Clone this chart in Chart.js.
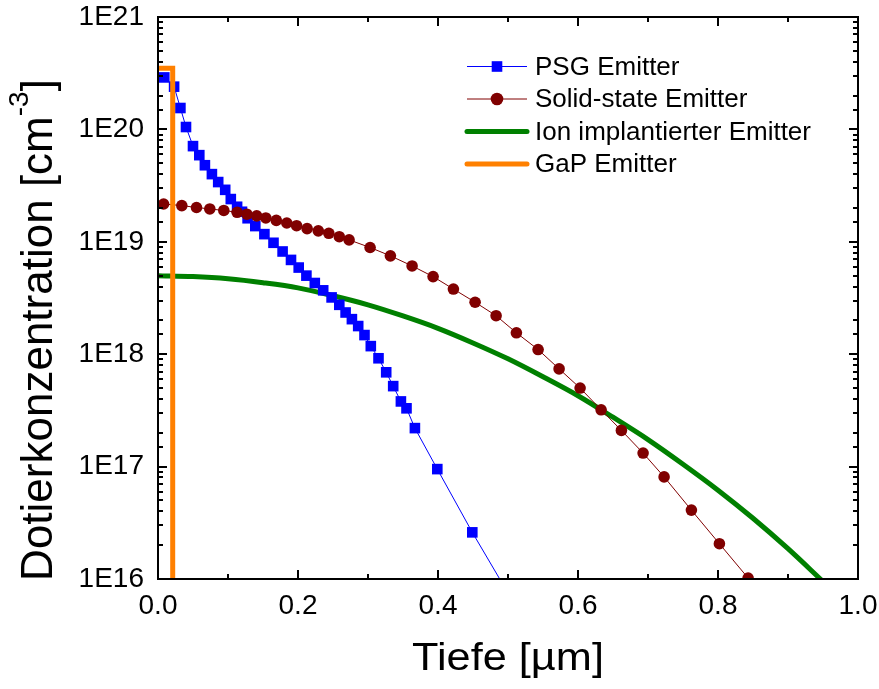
<!DOCTYPE html>
<html>
<head>
<meta charset="utf-8">
<title>Dotierprofile</title>
<script src="https://cdn.jsdelivr.net/npm/chart.js@4.4.0/dist/chart.umd.min.js"></script>
<style>
  html, body { margin: 0; padding: 0; background: #fff; }
  canvas { display: block; }
</style>
</head>
<body>
<canvas id="myChart" width="879" height="689"></canvas>
<script>
// values (depth in µm, concentration in cm^-3)
const psgDepth = [0.009, 0.023, 0.032, 0.040, 0.050, 0.059, 0.067, 0.077, 0.086, 0.096,
  0.104, 0.113, 0.120, 0.128, 0.139, 0.152, 0.165, 0.178, 0.190, 0.201,
  0.212, 0.224, 0.236, 0.248, 0.259, 0.268, 0.277, 0.286, 0.295, 0.304,
  0.315, 0.326, 0.336, 0.347, 0.355, 0.367, 0.399, 0.449, 0.500];
const psgConc = [2.9e20, 2.4e20, 1.55e20, 1.05e20, 7.1e19, 5.9e19, 4.8e19, 4.0e19, 3.4e19, 2.9e19,
  2.4e19, 2.05e19, 1.85e19, 1.62e19, 1.38e19, 1.17e19, 9.8e18, 8.2e18, 6.9e18, 5.9e18,
  5.0e18, 4.3e18, 3.7e18, 3.2e18, 2.75e18, 2.35e18, 2.05e18, 1.78e18, 1.48e18, 1.18e18,
  9.2e17, 6.9e17, 5.2e17, 3.8e17, 3.3e17, 2.2e17, 9.5e16, 2.6e16, 7.5e15];

const solidDepth = [0.008, 0.034, 0.055, 0.074, 0.094, 0.113, 0.127, 0.141, 0.154, 0.169,
  0.184, 0.198, 0.213, 0.229, 0.244, 0.259, 0.273, 0.303, 0.332, 0.363,
  0.393, 0.422, 0.453, 0.483, 0.512, 0.543, 0.573, 0.603, 0.633, 0.662,
  0.693, 0.723, 0.762, 0.802, 0.843];
const solidConc = [2.17e19, 2.1e19, 2.02e19, 1.96e19, 1.9e19, 1.83e19, 1.76e19, 1.7e19, 1.63e19, 1.55e19,
  1.47e19, 1.39e19, 1.31e19, 1.25e19, 1.19e19, 1.11e19, 1.04e19, 8.9e18, 7.5e18, 6.1e18,
  4.9e18, 3.8e18, 2.9e18, 2.2e18, 1.55e18, 1.1e18, 7.4e17, 5.0e17, 3.2e17, 2.1e17,
  1.32e17, 8.1e16, 4.1e16, 2.06e16, 1.02e16];

const ionDepth = [0.00, 0.05, 0.10, 0.15, 0.20, 0.25, 0.30, 0.35, 0.40, 0.45,
  0.50, 0.55, 0.60, 0.65, 0.70, 0.75, 0.80, 0.85, 0.90, 0.95];
const ionConc = [5.0e18, 4.9e18, 4.68e18, 4.32e18, 3.89e18, 3.31e18, 2.75e18, 2.19e18, 1.7e18, 1.26e18,
  9.1e17, 6.3e17, 4.27e17, 2.75e17, 1.74e17, 1.05e17, 6.17e16, 3.47e16, 1.86e16, 9.5e15];

const gapDepth = [0.0, 0.021, 0.021];
const gapConc = [3.5e20, 3.5e20, 1e15];

const seriesLabels = ['PSG Emitter', 'Solid-state Emitter', 'Ion implantierter Emitter', 'GaP Emitter'];

const FONT = "'Liberation Sans', Arial, Helvetica, sans-serif";

function pts(xs, ys) {
  return xs.map((x, i) => ({ x: x, y: ys[i] }));
}

function isDecade(v) {
  const e = Math.log10(v);
  return Math.abs(e - Math.round(e)) < 1e-6;
}

// inward ticks on all four sides plus the closed frame
const frameTicks = {
  id: 'frameTicks',
  afterDraw(chart) {
    const ctx = chart.ctx;
    const a = chart.chartArea;
    const xs = chart.scales.x, ys = chart.scales.y;
    ctx.save();
    ctx.strokeStyle = '#000';
    ctx.lineWidth = 2;
    ctx.beginPath();
    xs.ticks.forEach(t => {
      const px = Math.round(xs.getPixelForValue(t.value));
      const len = Math.round(t.value * 10) % 2 === 0 ? 9 : 5;
      ctx.moveTo(px, a.bottom); ctx.lineTo(px, a.bottom - len);
      ctx.moveTo(px, a.top); ctx.lineTo(px, a.top + len);
    });
    ys.ticks.forEach(t => {
      const py = Math.round(ys.getPixelForValue(t.value));
      const len = isDecade(t.value) ? 9 : 5;
      ctx.moveTo(a.left, py); ctx.lineTo(a.left + len, py);
      ctx.moveTo(a.right, py); ctx.lineTo(a.right - len, py);
    });
    ctx.stroke();
    ctx.strokeRect(a.left, a.top, a.right - a.left, a.bottom - a.top);
    ctx.restore();
  }
};

// axis titles (the y title needs a superscript)
const axisTitles = {
  id: 'axisTitles',
  afterDraw(chart) {
    const ctx = chart.ctx;
    const a = chart.chartArea;
    ctx.save();
    ctx.fillStyle = '#000';
    ctx.textBaseline = 'alphabetic';

    ctx.save();
    ctx.font = '38px ' + FONT;
    ctx.textAlign = 'center';
    ctx.translate((a.left + a.right) / 2, 670);
    ctx.scale(1.14, 1);
    ctx.fillText('Tiefe [\u00b5m]', 0, 0);
    ctx.restore();

    const main = 'Dotierkonzentration [cm';
    const sup = '-3';
    const end = ']';
    ctx.font = '44px ' + FONT;
    const w1 = ctx.measureText(main).width;
    const w3 = ctx.measureText(end).width;
    ctx.font = '28px ' + FONT;
    const w2 = ctx.measureText(sup).width;
    const total = w1 + w2 + w3;
    ctx.translate(52, 330);
    ctx.rotate(-Math.PI / 2);
    ctx.textAlign = 'left';
    const x0 = -total / 2;
    ctx.font = '44px ' + FONT;
    ctx.fillText(main, x0, 0);
    ctx.font = '28px ' + FONT;
    ctx.fillText(sup, x0 + w1, -24);
    ctx.font = '44px ' + FONT;
    ctx.fillText(end, x0 + w1 + w2, 0);
    ctx.restore();
  }
};

// legend with line + marker samples
const lineLegend = {
  id: 'lineLegend',
  afterDraw(chart) {
    const ctx = chart.ctx;
    const a = chart.chartArea;
    const x1 = a.left + 309, x2 = a.left + 369, xt = a.left + 377;
    let y = 66.5;
    ctx.save();
    ctx.font = '26px ' + FONT;
    ctx.textBaseline = 'middle';
    ctx.textAlign = 'left';
    chart.data.datasets.forEach(ds => {
      ctx.strokeStyle = ds.borderColor;
      ctx.lineWidth = ds.borderWidth;
      ctx.lineCap = ds.borderWidth > 2 ? 'round' : 'butt';
      ctx.beginPath();
      ctx.moveTo(x1, y); ctx.lineTo(x2, y);
      ctx.stroke();
      const cx = (x1 + x2) / 2;
      ctx.fillStyle = ds.borderColor;
      if (ds.pointRadius > 0 && ds.pointStyle === 'rect') {
        const s = ds.pointRadius * Math.SQRT1_2;
        ctx.fillRect(cx - s, y - s, 2 * s, 2 * s);
      } else if (ds.pointRadius > 0) {
        ctx.beginPath();
        ctx.arc(cx, y, ds.pointRadius + 0.5, 0, Math.PI * 2);
        ctx.fill();
      }
      ctx.fillStyle = '#000';
      ctx.fillText(ds.label, xt, y + 1);
      y += 32.5;
    });
    ctx.restore();
  }
};

const ctx = document.getElementById('myChart').getContext('2d');
const myChart = new Chart(ctx, {
  type: 'scatter',
  data: {
    datasets: [
      {
        label: seriesLabels[0],
        data: pts(psgDepth, psgConc),
        showLine: true,
        borderColor: '#0000ff',
        backgroundColor: '#0000ff',
        borderWidth: 1,
        pointStyle: 'rect',
        pointRadius: 7.5,
        pointBorderWidth: 0,
        pointBackgroundColor: '#0000ff',
        order: 2,
        clip: 0
      },
      {
        label: seriesLabels[1],
        data: pts(solidDepth, solidConc),
        showLine: true,
        borderColor: '#800000',
        backgroundColor: '#800000',
        borderWidth: 1,
        pointStyle: 'circle',
        pointRadius: 5.8,
        pointBorderWidth: 0,
        pointBackgroundColor: '#800000',
        order: 1,
        clip: 0
      },
      {
        label: seriesLabels[2],
        data: pts(ionDepth, ionConc),
        showLine: true,
        borderColor: '#008000',
        borderWidth: 5,
        pointRadius: 0,
        cubicInterpolationMode: 'monotone',
        order: 3,
        clip: 0
      },
      {
        label: seriesLabels[3],
        data: pts(gapDepth, gapConc),
        showLine: true,
        borderColor: '#ff8000',
        borderWidth: 5,
        borderJoinStyle: 'miter',
        pointRadius: 0,
        tension: 0,
        order: 0,
        clip: 0
      }
    ]
  },
  options: {
    responsive: false,
    animation: false,
    events: [],
    layout: { padding: { left: 0, right: 21, top: 17, bottom: 0 } },
    plugins: {
      legend: { display: false },
      tooltip: { enabled: false },
      title: { display: false }
    },
    scales: {
      x: {
        type: 'linear',
        min: 0,
        max: 1,
        grid: { display: false, drawTicks: false },
        border: { display: false },
        ticks: {
          stepSize: 0.1,
          autoSkip: false,
          maxRotation: 0,
          padding: 10,
          color: '#000',
          font: { family: FONT, size: 28 },
          callback: v => (Math.round(v * 10) % 2 === 0 ? v.toFixed(1) : '')
        },
        afterFit: s => { s.height = 110; s.paddingLeft = 0; s.paddingRight = 0; }
      },
      y: {
        type: 'logarithmic',
        min: 1e16,
        max: 1e21,
        grid: { display: false, drawTicks: false },
        border: { display: false },
        ticks: {
          autoSkip: false,
          padding: 14,
          color: '#000',
          font: { family: FONT, size: 28 },
          callback: v => (isDecade(v) ? '1E' + Math.round(Math.log10(v)) : '')
        },
        afterFit: s => { s.width = 158; s.paddingTop = 0; s.paddingBottom = 0; }
      }
    }
  },
  plugins: [frameTicks, axisTitles, lineLegend]
});
</script>
</body>
</html>
